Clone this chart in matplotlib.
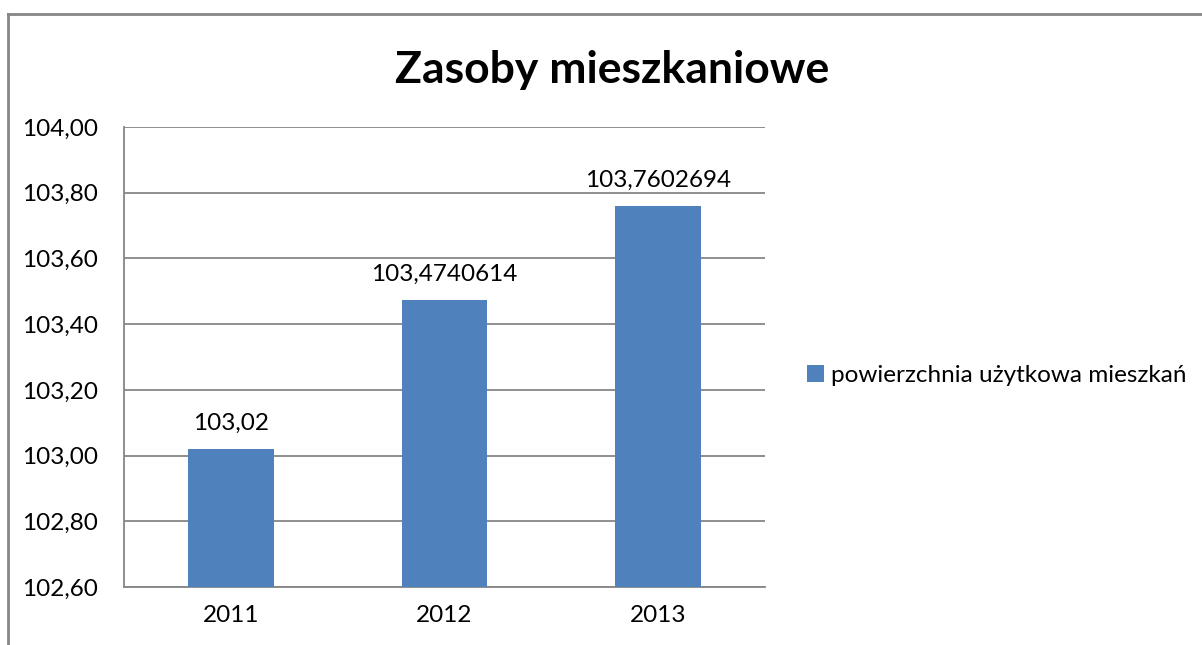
import matplotlib
matplotlib.use("Agg")
import matplotlib.pyplot as plt
from matplotlib.lines import Line2D
from matplotlib.patches import Patch

# Data
years = ["2011", "2012", "2013"]
values = [103.02, 103.4740614, 103.7602694]
value_labels = ["103,02", "103,4740614", "103,7602694"]
series_name = "powierzchnia użytkowa mieszkań"
y_ticks = [102.6, 102.8, 103.0, 103.2, 103.4, 103.6, 103.8, 104.0]

plt.rcParams["font.family"] = ["Lato", "DejaVu Sans"]

bar_color = "#4F81BD"
grid_color = "#868686"
fs = 17.5

fig = plt.figure(figsize=(12.02, 6.45), dpi=100)
ax = fig.add_axes([0.1032, 0.0899, 0.5332, 0.7132])

x = range(len(years))
bars = ax.bar(x, values, width=0.4, color=bar_color, zorder=3)
ax.set_xlim(-0.5, len(years) - 0.5)
ax.set_ylim(102.6, 104.0)

ax.set_yticks(y_ticks)
ax.set_yticklabels([f"{v:.2f}".replace(".", ",") for v in y_ticks])
ax.set_xticks(list(x))
ax.set_xticklabels(years)
ax.tick_params(axis="both", length=0, labelsize=fs, colors="black")
ax.tick_params(axis="y", pad=19)
ax.tick_params(axis="x", pad=13)

ax.grid(axis="y", color=grid_color, linewidth=1.3, zorder=0)
for side in ["top", "right"]:
    ax.spines[side].set_visible(False)
for side in ["left", "bottom"]:
    ax.spines[side].set_color(grid_color)
    ax.spines[side].set_linewidth(1.3)

for xi, v, lab in zip(x, values, value_labels):
    ax.annotate(lab, (xi, v), xytext=(0, 11), textcoords="offset points",
                ha="center", va="bottom", fontsize=fs)

fig.text(0.509, 0.891, "Zasoby mieszkaniowe", ha="center", va="center",
         fontsize=32, fontweight="bold")

leg = fig.legend(handles=[Patch(facecolor=bar_color, label=series_name)],
                 loc="center left", bbox_to_anchor=(0.661, 0.418),
                 frameon=False, fontsize=fs, handlelength=0.7,
                 handleheight=0.7, handletextpad=0.3, borderpad=0)

# outer chart border (left and top visible)
fig.add_artist(Line2D([0.0065, 0.0065], [0.0, 0.978], color=grid_color,
                      linewidth=2, transform=fig.transFigure))
fig.add_artist(Line2D([0.0065, 1.0], [0.978, 0.978], color=grid_color,
                      linewidth=2, transform=fig.transFigure))

fig.savefig("out.png", dpi=100)
